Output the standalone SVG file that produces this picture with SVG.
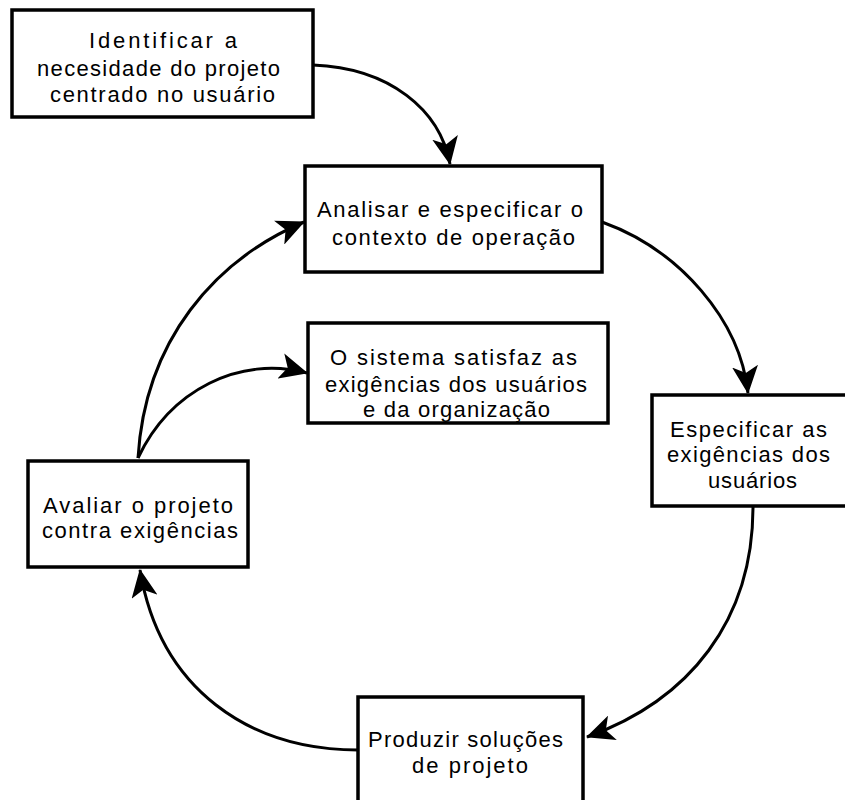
<svg xmlns="http://www.w3.org/2000/svg" width="845" height="800" viewBox="0 0 845 800">
  <style>
    .box { fill: #ffffff; stroke: #000000; stroke-width: 3.5; }
    .lbl { font-family: "Liberation Sans", "DejaVu Sans", sans-serif; font-size: 22px; fill: #000000; }
    .edge { fill: none; stroke: #000000; stroke-width: 3; }
  </style>
  <defs>
    <marker id="arrow" markerUnits="userSpaceOnUse" markerWidth="28" markerHeight="26" viewBox="0 0 28 26" refX="27" refY="13" orient="auto">
      <path d="M0,0 L28,13 L0,26 L7,13 Z" fill="#000000"/>
    </marker>
  </defs>
  <rect width="845" height="800" fill="#ffffff"/>

  <!-- connectors -->
  <g id="connectors">
    <path class="edge" d="M313,65 C390,68 440,110 450,164" marker-end="url(#arrow)"/>
    <path class="edge" d="M602,222 C680,250 740,320 748,393" marker-end="url(#arrow)"/>
    <path class="edge" d="M753,507 C753,620 690,700 587,737" marker-end="url(#arrow)"/>
    <path class="edge" d="M358,750 C250,750 160,690 140,570" marker-end="url(#arrow)"/>
    <path class="edge" d="M138,458 C145,340 215,260 304,222" marker-end="url(#arrow)"/>
    <path class="edge" d="M138,458 C170,390 240,355 307,373" marker-end="url(#arrow)"/>
  </g>

  <!-- nodes -->
  <g id="identificar">
    <rect class="box" x="12" y="10" width="301" height="107"/>
    <text class="lbl" x="89" y="48" textLength="148" lengthAdjust="spacing">Identificar a</text>
    <text class="lbl" x="37" y="76" textLength="243" lengthAdjust="spacing">necesidade do projeto</text>
    <text class="lbl" x="50" y="102" textLength="225" lengthAdjust="spacing">centrado no usuário</text>
  </g>

  <g id="analisar">
    <rect class="box" x="305" y="166" width="297" height="106"/>
    <text class="lbl" x="317" y="217" textLength="266" lengthAdjust="spacing">Analisar e especificar o</text>
    <text class="lbl" x="332" y="245" textLength="243" lengthAdjust="spacing">contexto de operação</text>
  </g>

  <g id="sistema">
    <rect class="box" x="308" y="323" width="300" height="100"/>
    <text class="lbl" x="330" y="365" textLength="247" lengthAdjust="spacing">O sistema satisfaz as</text>
    <text class="lbl" x="325" y="392" textLength="262" lengthAdjust="spacing">exigências dos usuários</text>
    <text class="lbl" x="363" y="417" textLength="187" lengthAdjust="spacing">e da organização</text>
  </g>

  <g id="especificar">
    <rect class="box" x="652" y="395" width="200" height="111"/>
    <text class="lbl" x="670" y="437" textLength="157" lengthAdjust="spacing">Especificar as</text>
    <text class="lbl" x="667" y="462" textLength="163" lengthAdjust="spacing">exigências dos</text>
    <text class="lbl" x="708" y="488" textLength="89" lengthAdjust="spacing">usuários</text>
  </g>

  <g id="avaliar">
    <rect class="box" x="28" y="461" width="220" height="106"/>
    <text class="lbl" x="43" y="513" textLength="190" lengthAdjust="spacing">Avaliar o projeto</text>
    <text class="lbl" x="42" y="538" textLength="196" lengthAdjust="spacing">contra exigências</text>
  </g>

  <g id="produzir">
    <rect class="box" x="358" y="697" width="225" height="120"/>
    <text class="lbl" x="368" y="747" textLength="195" lengthAdjust="spacing">Produzir soluções</text>
    <text class="lbl" x="412" y="773" textLength="116" lengthAdjust="spacing">de projeto</text>
  </g>
</svg>
